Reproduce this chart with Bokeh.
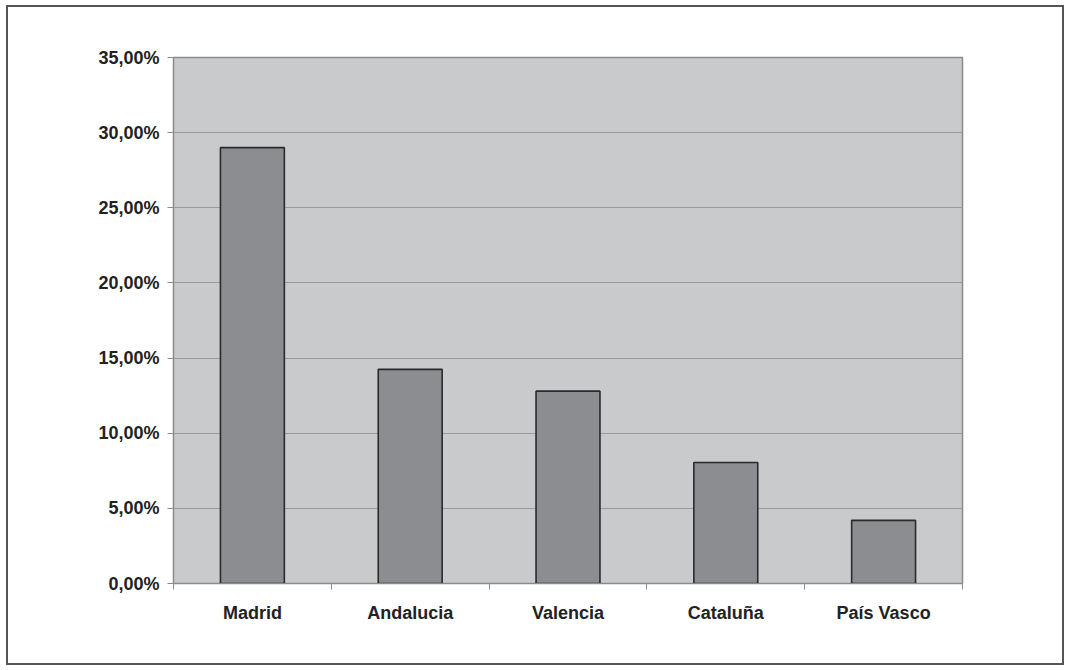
from bokeh.plotting import figure
from bokeh.models import Range1d, LinearAxis, FixedTicker, ColumnDataSource
from bokeh.embed import file_html
from bokeh.resources import INLINE

categories = ["Madrid", "Andalucia", "Valencia", "Cataluña", "País Vasco"]
shares = [29.0, 14.25, 12.8, 8.05, 4.2]
y_ticks = [0, 5, 10, 15, 20, 25, 30, 35]
y_tick_labels = ["0,00%", "5,00%", "10,00%", "15,00%", "20,00%", "25,00%", "30,00%", "35,00%"]

FONT = "Liberation Sans"
LABEL_COLOR = "#222222"

n = len(categories)
centers = [i + 0.5 for i in range(n)]
edges = list(range(n + 1))

p = figure(width=1058, height=660, x_range=Range1d(0, n),
           y_range=Range1d(0, 35), output_backend="svg", toolbar_location=None,
           x_axis_location=None, y_axis_location=None,
           min_border_left=165, min_border_top=50, min_border_right=104,
           min_border_bottom=84)
p.styles = {"border": "2px solid #555555", "margin-left": "6px", "margin-top": "5px"}
p.background_fill_color = "#c9cacc"
p.border_fill_color = "white"
p.outline_line_color = "#8a8a8a"
p.outline_line_width = 1.5

src = ColumnDataSource(dict(x=centers, share=shares, cat=categories))
p.vbar(x="x", top="share", width=0.405, source=src,
       fill_color="#8c8d91", line_color="#2a2a2a", line_width=1.6)

# y axis
yax = LinearAxis(ticker=FixedTicker(ticks=y_ticks),
                 major_label_overrides={t: l for t, l in zip(y_ticks, y_tick_labels)})
yax.axis_line_color = None
yax.major_tick_line_color = "#8a8a8a"
yax.major_tick_out = 6
yax.major_tick_in = 0
yax.minor_tick_line_color = None
yax.major_label_standoff = 8
yax.major_label_text_font = FONT
yax.major_label_text_font_style = "bold"
yax.major_label_text_font_size = "18px"
yax.major_label_text_color = LABEL_COLOR
p.add_layout(yax, "left")

# x edge ticks (between categories)
eax = LinearAxis(ticker=FixedTicker(ticks=edges),
                 major_label_overrides={t: "" for t in edges})
eax.axis_line_color = "#8a8a8a"
eax.major_tick_line_color = "#8a8a8a"
eax.major_tick_out = 6
eax.major_tick_in = 0
eax.minor_tick_line_color = None
eax.major_label_text_font_size = "1px"
eax.major_label_standoff = 0

# category labels
cax = LinearAxis(ticker=FixedTicker(ticks=centers),
                 major_label_overrides={c: name for c, name in zip(centers, categories)})
cax.axis_line_color = None
cax.major_tick_line_color = None
cax.minor_tick_line_color = None
cax.major_label_standoff = 7
cax.major_label_text_font = FONT
cax.major_label_text_font_style = "bold"
cax.major_label_text_font_size = "18px"
cax.major_label_text_color = LABEL_COLOR

p.below = [eax, cax]

p.ygrid.ticker = FixedTicker(ticks=y_ticks)
p.ygrid.grid_line_color = "#9a9a9a"
p.ygrid.grid_line_width = 1.2
p.xgrid.grid_line_color = None

open("out.html", "w").write(file_html(p, INLINE))
